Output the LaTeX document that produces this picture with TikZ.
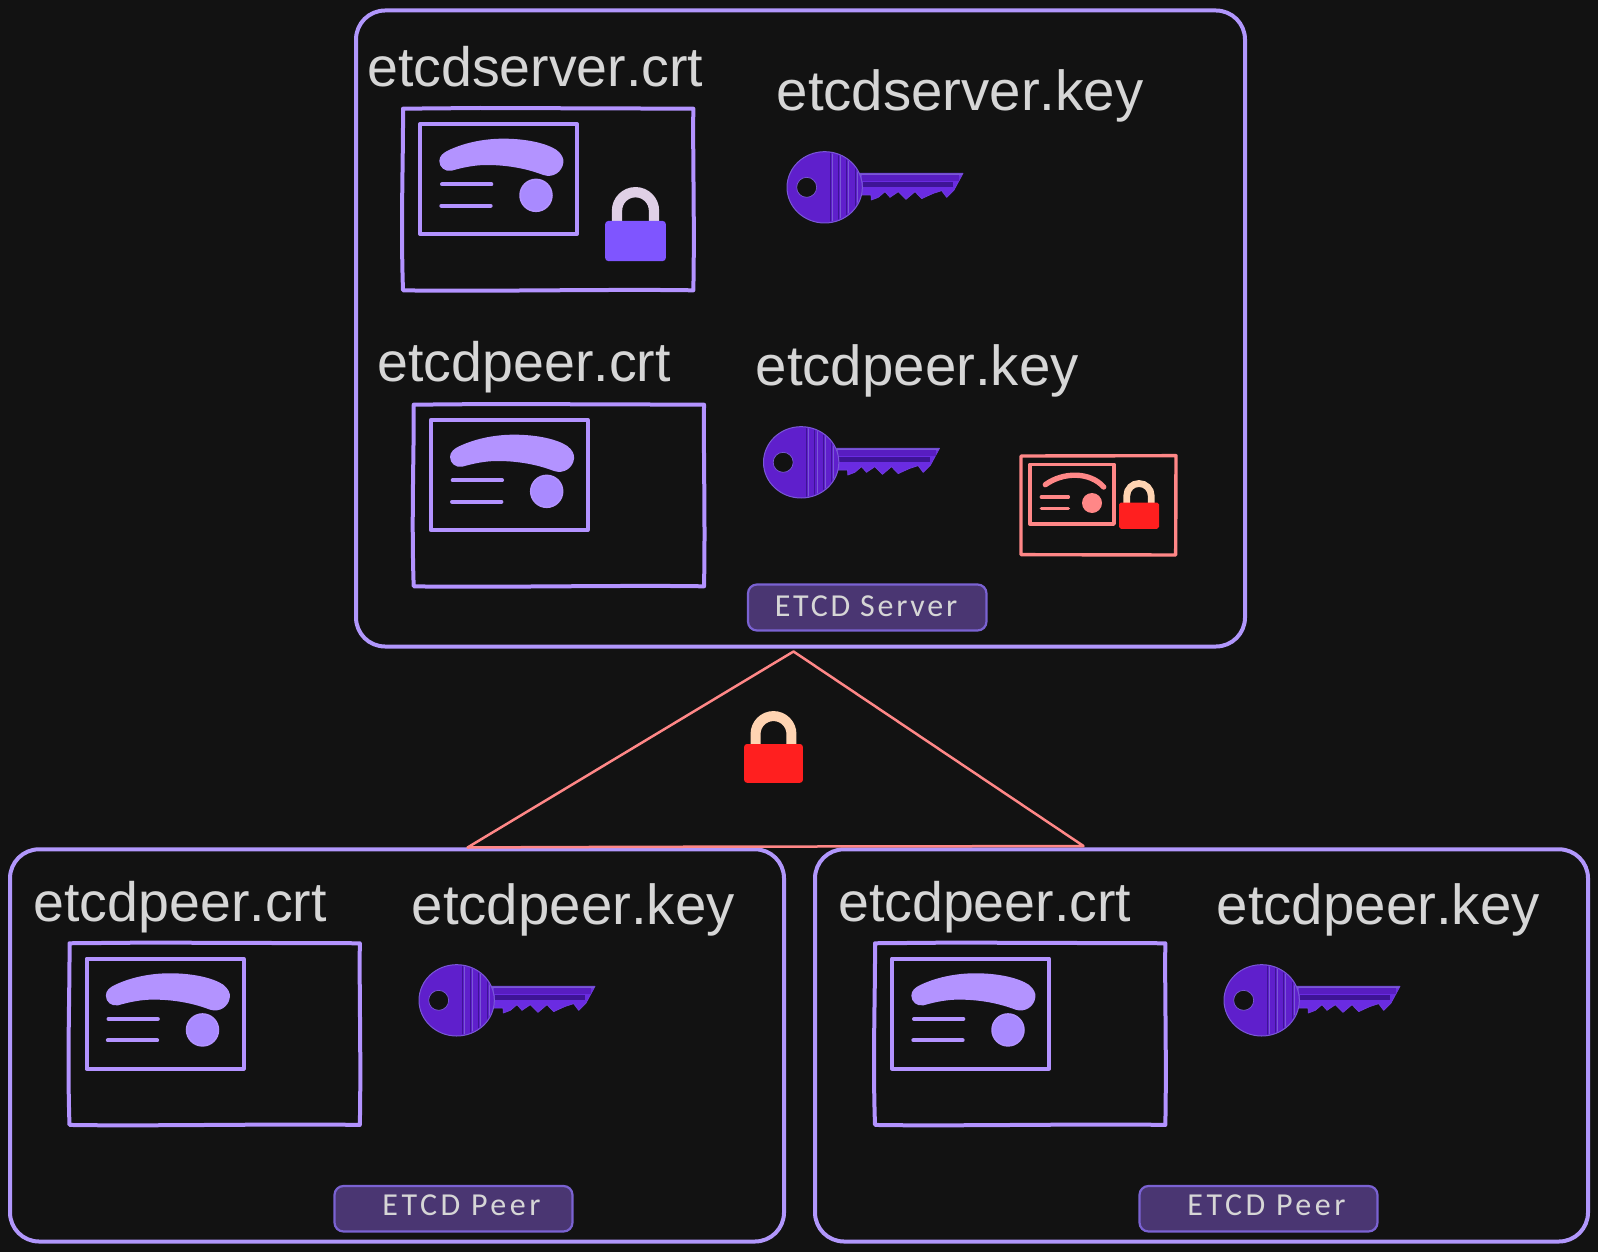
\documentclass[tikz,border=0pt]{standalone}
\usepackage{fontspec}
\setmainfont[Kerning=Off]{Liberation Sans}
\newfontfamily\handfont[LetterSpace=8.5]{Carlito}
\definecolor{bgc}{HTML}{121212}
\definecolor{vio}{HTML}{B197FC}
\definecolor{vioart}{HTML}{B393FF}
\definecolor{sealc}{HTML}{A98AFF}
\definecolor{txtc}{HTML}{D6D6D6}
\definecolor{salm}{HTML}{FF8787}
\definecolor{keyc}{HTML}{5F1FCC}
\definecolor{keyb}{HTML}{6A2BE2}
\definecolor{keyd}{HTML}{3E1496}
\definecolor{keyl}{HTML}{7A58D6}
\definecolor{badgef}{HTML}{4A3672}
\definecolor{badged}{HTML}{7A62D2}
\definecolor{lockv}{HTML}{7F55FF}
\definecolor{shackv}{HTML}{E0D0E6}
\definecolor{lockr}{HTML}{FF1F1F}
\definecolor{shackr}{HTML}{FFD4B2}
\tikzset{
  panel/.style={draw=vio,line width=4pt,rounded corners=29pt},
  label/.style={text=txtc,anchor=base west,inner sep=0pt,font=\fontsize{55.5}{60}\selectfont},
  keylabel/.style={text=txtc,anchor=base west,inner sep=0pt,font=\fontsize{56.4}{60}\selectfont},
  badgebox/.style={draw=badged,fill=badgef,line width=2.2pt,rounded corners=9pt},
  badgetext/.style={text=txtc,inner sep=0pt,font=\handfont\fontsize{32}{36}\selectfont},
  cardline/.style={draw=vioart,line width=4pt,line join=round},
}
% padlock: origin at top centre of the body
\newcommand{\padlock}[5]{%
  \begin{scope}[shift={(#1,#2)},scale=#3]
    \draw[#5,line width={#3*10.3pt}] (-18.5,0.5) -- (-18.5,-10.3)
      .. controls (-18.5,-20.5) and (-10.2,-28.8) .. (0,-28.8)
      .. controls (10.2,-28.8) and (18.5,-20.5) .. (18.5,-10.3) -- (18.5,0.5);
    \fill[#4,rounded corners={#3*3pt}] (-30.3,0) rectangle (30.3,40);
  \end{scope}}
% certificate drawing, in 3x coordinates of the first certificate
\newcommand{\certart}[2]{%
  \begin{scope}[shift={(#1+380,#2+90)},x=.33333pt,y=-.33333pt]
    \draw[cardline] (69,56) -- (300,54) -- (940,56)
      .. controls (938,200) and (944,400) .. (940,601)
      .. controls (700,597) and (300,605) .. (69,601)
      .. controls (62,400) and (70,200) .. (69,56) -- cycle;
    \draw[cardline] (120,102) rectangle (591,432);
    \fill[vioart] (178,213) .. controls (178,198) and (190,188) .. (205,181)
      .. controls (260,155) and (320,146) .. (370,146)
      .. controls (440,146) and (500,160) .. (530,180)
      .. controls (545,192) and (552,205) .. (550,218)
      .. controls (547,245) and (520,265) .. (490,255)
      .. controls (430,232) and (370,225) .. (320,225)
      .. controls (285,225) and (250,232) .. (215,242)
      .. controls (195,246) and (178,232) .. (178,213) -- cycle;
    \draw[vioart,line width=4pt,line cap=round] (186,283) -- (334,283);
    \draw[vioart,line width=4pt,line cap=round] (184,347) -- (332,347);
    \draw[vioart,fill=sealc,line width=1.5pt] (468,316) circle[radius=48];
  \end{scope}}
% key drawing, in 3x coordinates of the first key
\newcommand{\keyart}[2]{%
  \begin{scope}[shift={(#1+770,#2+140)},x=.33333pt,y=-.33333pt]
    \draw[keyl!40!keyb,fill=keyb,line width=.7pt,line join=round] (265,100) -- (579,100) -- (552,150) -- (545,157) -- (530,172)
      -- (515,152) -- (490,160) -- (472,168) -- (455,176) -- (435,155) -- (408,178)
      -- (385,155) -- (360,172) -- (345,155) -- (325,172) -- (304,180) -- (303,165) -- (265,165) -- cycle;
    \fill[keyl] (270,100) -- (579,100) -- (575,106) -- (270,106) -- cycle;
    \fill[keyc!80!keyd] (275,106) rectangle (568,122);
    \fill[keyd] (278,127) rectangle (550,141);
    \draw[keyl,fill=keyc,line width=1pt] (164,142) ellipse[x radius=113,y radius=107];
    \begin{scope}
      \clip (164,142) ellipse[x radius=110,y radius=104];
      \foreach \gx in {180,205,230,255} {
        \draw[keyd,line width=1pt] (\gx,30) -- (\gx,250);
        \draw[keyl,line width=.6pt] (\gx+6,30) -- (\gx+6,250);
      }
    \end{scope}
    \draw[keyl,fill=bgc,line width=.7pt] (110,142) circle[radius=30];
  \end{scope}}
\begin{document}
\begin{tikzpicture}[x=1pt,y=-1pt]
\useasboundingbox (0,0) rectangle (1598,1252);
\fill[bgc] (0,0) rectangle (1598,1252);

% panels
\draw[panel] (356,10.5) rectangle (1245,646.5);
\draw[panel] (10,849.3) rectangle (784,1241.5);
\draw[panel] (815,849.3) rectangle (1588,1241.5);

% labels
\node[label] (srvcrt) at (367,86.5) {etcdserver.crt};
\node[keylabel] (srvkey) at (776.5,111) {etcdserver.key};
\node[label] (peercrt) at (377.5,381) {etcdpeer.crt};
\node[keylabel] (peerkey) at (755.5,385.5) {etcdpeer.key};
\node[label] (lcrt) at (33.5,921) {etcdpeer.crt};
\node[keylabel] (lkey) at (411.5,924.5) {etcdpeer.key};
\node[label] (rcrt) at (838,921) {etcdpeer.crt};
\node[keylabel] (rkey) at (1216.5,924.5) {etcdpeer.key};

% certificates
\certart{0}{0}
\padlock{635.5}{221}{1}{lockv}{shackv}
\certart{10.7}{296}
\certart{-333.5}{834.6}
\certart{472}{834.6}

% keys
\keyart{0}{0}
\keyart{-23.5}{275}
\keyart{-368}{813}
\keyart{437}{813}

% small red certificate
\begin{scope}[shift={(1000,440)},x=.33333pt,y=-.33333pt]
  \draw[salm,line width=3.4pt,line join=round] (63,48) -- (528,47) -- (527,345) -- (63,344) -- cycle;
  \draw[salm,line width=3.4pt,line join=round] (90,73) rectangle (342,252);
  \draw[salm,line width=5.4pt,line cap=round] (136,134) .. controls (190,95) and (270,95) .. (311,141);
  \draw[salm,line width=3.4pt,line cap=round] (124,171) -- (205,171);
  \draw[salm,line width=3.4pt,line cap=round] (124,205) -- (205,205);
  \fill[salm] (276,189) circle[radius=30];
\end{scope}
\padlock{1139}{502.5}{.66}{lockr}{shackr}

% badges
\draw[badgebox] (748,584.5) rectangle (986.5,630.5);
\node[badgetext] (srvtag) at (866,606) {ETCD Server};
\draw[badgebox] (334.5,1186) rectangle (572.5,1231.5);
\node[badgetext] (ltag) at (461.5,1205) {\addfontfeature{LetterSpace=11}ETCD Peer};
\draw[badgebox] (1139.5,1186) rectangle (1377.5,1231.5);
\node[badgetext] (rtag) at (1266.5,1205) {\addfontfeature{LetterSpace=11}ETCD Peer};

% encrypted link
\coordinate (apex) at (793.5,651.5);
\coordinate (bl) at (467.5,847.5);
\coordinate (br) at (1083.5,846);
\draw[salm,line width=2.5pt,line join=round] (apex) -- (bl) .. controls (650,846.5) and (900,846.5) .. (br) -- cycle;
\padlock{773.5}{744}{.97}{lockr}{shackr}
\end{tikzpicture}
\end{document}
